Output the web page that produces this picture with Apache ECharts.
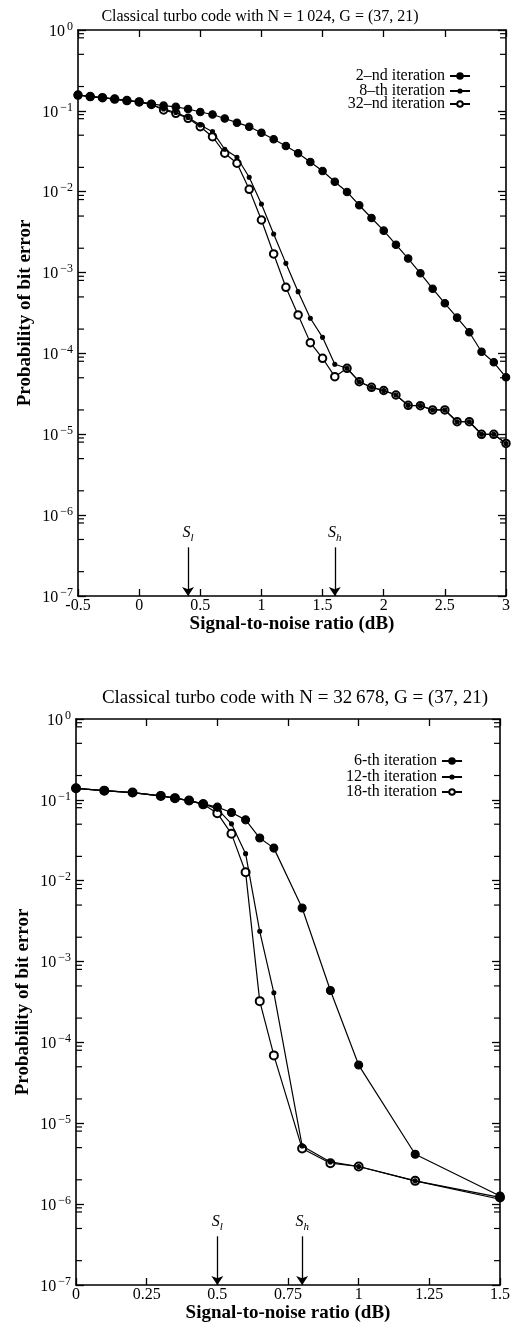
<!DOCTYPE html>
<html>
<head>
<meta charset="utf-8">
<script src="https://cdn.jsdelivr.net/npm/echarts@6/dist/echarts.min.js"></script>
<style>
  html, body { margin: 0; padding: 0; background: #fff; }
  #chart { width: 513px; height: 1328px; }
</style>
</head>
<body>
<div id="chart"></div>
<script>
// top chart: N = 1024
const snrTop = [-0.5, -0.4, -0.3, -0.2, -0.1, 0, 0.1, 0.2, 0.3, 0.4, 0.5, 0.6, 0.7, 0.8, 0.9, 1.0, 1.1, 1.2,
  1.3, 1.4, 1.5, 1.6, 1.7, 1.8, 1.9, 2.0, 2.1, 2.2, 2.3, 2.4, 2.5, 2.6, 2.7, 2.8, 2.9, 3.0];
const ber2nd = [0.157, 0.150, 0.1455, 0.140, 0.134, 0.129, 0.122, 0.116, 0.112, 0.1054, 0.0968, 0.0902,
  0.0805, 0.0714, 0.0637, 0.0537, 0.0445, 0.0367, 0.0299, 0.0233, 0.0180, 0.0133, 0.00993, 0.00680,
  0.00473, 0.00330, 0.00221, 0.00149, 0.00098, 0.000632, 0.000417, 0.000277, 0.000183, 0.000105,
  0.0000777, 0.0000507];
const ber8th = [0.157, 0.150, 0.1455, 0.140, 0.134, 0.129, 0.120, 0.1054, 0.0954, 0.0828, 0.0669, 0.0553,
  0.0335, 0.0267, 0.0151, 0.00705, 0.00300, 0.00130, 0.000581, 0.000272, 0.000158, 0.0000735, 0.0000655,
  0.0000447, 0.0000381, 0.0000348, 0.0000306, 0.0000228, 0.0000226, 0.0000200, 0.0000200, 0.0000143,
  0.0000143, 0.0000100, 0.0000100, 0.0000077];
const ber32nd = [0.157, 0.150, 0.1455, 0.140, 0.134, 0.129, 0.120, 0.1025, 0.0932, 0.0809, 0.0637, 0.0479,
  0.0299, 0.0225, 0.0107, 0.00447, 0.00170, 0.000658, 0.000299, 0.000136, 0.0000871, 0.0000516, 0.0000655,
  0.0000447, 0.0000381, 0.0000348, 0.0000306, 0.0000228, 0.0000226, 0.0000200, 0.0000200, 0.0000143,
  0.0000143, 0.0000100, 0.0000100, 0.0000077];

// bottom chart: N = 32678
const snrBottom = [0, 0.1, 0.2, 0.3, 0.35, 0.4, 0.45, 0.5, 0.55, 0.6, 0.65, 0.7, 0.8, 0.9, 1.0, 1.2, 1.5];
const ber6th = [0.139, 0.130, 0.123, 0.112, 0.105, 0.098, 0.0893, 0.0813, 0.0697, 0.0566, 0.0337, 0.0253,
  0.00460, 0.000438, 0.0000525, 0.00000414, 0.00000126];
const ber12th = [0.139, 0.130, 0.123, 0.112, 0.105, 0.098, 0.0893, 0.0774, 0.0505, 0.0216, 0.00237, 0.000411,
  0.00000525, 0.00000333, 0.00000292, 0.00000194, 0.00000115];
const ber18th = [0.139, 0.130, 0.123, 0.112, 0.105, 0.098, 0.0880, 0.0685, 0.0380, 0.0127, 0.000324, 0.0000691,
  0.00000487, 0.00000321, 0.00000292, 0.00000194, 0.00000121];

const xTicksTop = [-0.5, 0, 0.5, 1, 1.5, 2, 2.5, 3];
const xTicksBottom = [0, 0.25, 0.5, 0.75, 1, 1.25, 1.5];
const yExponents = [-7, -6, -5, -4, -3, -2, -1, 0];
const minorMultipliers = [2, 5, 8, 9];
const thresholdsTop = [0.4, 1.6];
const thresholdsBottom = [0.5, 0.8];
const thresholdNames = ['l', 'h'];

const serif = 'Liberation Serif';
const black = '#000';

const zip = (xs, ys) => xs.map((x, i) => [x, ys[i]]);

const minorVals = [];
yExponents.slice(0, -1).forEach(e => {
  minorMultipliers.forEach(m => minorVals.push(m * Math.pow(10, e)));
});

function xAxisPair(gi, ticks, name) {
  const common = {
    gridIndex: gi, type: 'value',
    min: ticks[0], max: ticks[ticks.length - 1], interval: ticks[1] - ticks[0],
    splitLine: {show: false},
    axisLine: {show: true, onZero: false, lineStyle: {color: black, width: 1.6}},
    axisTick: {show: true, inside: true, length: 7, lineStyle: {color: black, width: 1.3}}
  };
  return [
    Object.assign({}, common, {
      position: 'bottom',
      axisLabel: {color: black, fontFamily: serif, fontSize: 16, margin: 2, formatter: v => String(v)},
      name: name, nameLocation: 'middle', nameGap: 14,
      nameTextStyle: {color: black, fontFamily: serif, fontSize: 19, fontWeight: 'bold'}
    }),
    Object.assign({}, common, {position: 'top', axisLabel: {show: false}})
  ];
}

const supRich = {
  b: {fontFamily: serif, fontSize: 16, color: black, verticalAlign: 'bottom'},
  s: {fontFamily: serif, fontSize: 12, color: black, verticalAlign: 'bottom', padding: [0, 0, 7, 2]}
};

function yAxisPair(gi) {
  const common = {
    gridIndex: gi, type: 'log', logBase: 10,
    min: Math.pow(10, yExponents[0]), max: Math.pow(10, yExponents[yExponents.length - 1]),
    interval: 1, splitNumber: 7,
    splitLine: {show: false},
    minorTick: {show: false},
    axisLine: {show: true, onZero: false, lineStyle: {color: black, width: 1.6}},
    axisTick: {show: true, inside: true, length: 8, lineStyle: {color: black, width: 1.3}}
  };
  return [
    Object.assign({}, common, {
      position: 'left',
      axisLabel: {
        margin: 5, showMinLabel: true, showMaxLabel: true,
        formatter: v => {
          const e = Math.round(Math.log10(v));
          return '{b|10}{s|' + (e === 0 ? '0' : '\u2212' + (-e)) + '}';
        },
        rich: supRich
      },
      name: 'Probability of bit error', nameLocation: 'middle', nameRotate: 90, nameGap: 43,
      nameMoveOverlap: false,
      nameTextStyle: {color: black, fontFamily: serif, fontSize: 19, fontWeight: 'bold'}
    }),
    Object.assign({}, common, {position: 'right', axisLabel: {show: false}})
  ];
}

function lineSeries(name, xi, data, symbol, size, z) {
  return {
    name: name, type: 'line', xAxisIndex: xi, yAxisIndex: xi,
    data: data, symbol: symbol, symbolSize: size, showSymbol: true, z: z,
    lineStyle: {color: black, width: 1.2},
    itemStyle: {color: black, borderColor: black, borderWidth: 1.1},
    emphasis: {disabled: true}
  };
}

function arrows(xs) {
  return {
    silent: true, animation: false,
    symbol: ['none', 'arrow'], symbolSize: 9,
    lineStyle: {color: black, width: 1.3, type: 'solid'},
    label: {
      show: true, position: 'start', distance: 4,
      formatter: p => '{S|S}{sub|' + p.name + '}',
      rich: {
        S: {fontFamily: serif, fontStyle: 'italic', fontSize: 16, color: black, verticalAlign: 'bottom', padding: [0, 0, 3, 0]},
        sub: {fontFamily: serif, fontStyle: 'italic', fontSize: 11, color: black, verticalAlign: 'bottom'}
      }
    },
    data: xs.map((x, i) => [{name: thresholdNames[i], coord: [x, 4e-7]}, {coord: [x, 1e-7]}])
  };
}

function minorTicks(gi) {
  return {
    type: 'custom', xAxisIndex: gi * 2, yAxisIndex: gi * 2, silent: true, clip: false, z: 1,
    data: minorVals.map(v => [0, v]),
    encode: {x: 0, y: 1},
    renderItem: (params, api) => {
      const cs = params.coordSys;
      const y = api.coord([api.value(0), api.value(1)])[1];
      const st = {stroke: black, lineWidth: 1.2};
      return {
        type: 'group', children: [
          {type: 'line', shape: {x1: cs.x, y1: y, x2: cs.x + 6, y2: y}, style: st},
          {type: 'line', shape: {x1: cs.x + cs.width - 6, y1: y, x2: cs.x + cs.width, y2: y}, style: st}
        ]
      };
    }
  };
}

// one legend component per entry so each icon can get its own marker size
function legendItem(name, right, top, iconH) {
  return {
    data: [name], orient: 'vertical', align: 'right', selectedMode: false,
    right: right, top: top, padding: 0,
    itemWidth: 20, itemHeight: iconH,
    textStyle: {color: black, fontFamily: serif, fontSize: 16, lineHeight: 15}
  };
}

const xTop = xAxisPair(0, xTicksTop, 'Signal-to-noise ratio (dB)');
const xBot = xAxisPair(1, xTicksBottom, 'Signal-to-noise ratio (dB)');
const yTop = yAxisPair(0);
const yBot = yAxisPair(1);

const names = {
  i2: '2\u2013nd iteration', i8: '8\u2013th iteration', i32: '32\u2013nd iteration',
  i6: '6-th iteration', i12: '12-th iteration', i18: '18-th iteration'
};

const s2 = lineSeries(names.i2, 0, zip(snrTop, ber2nd), 'circle', 7.5, 5);
s2.markLine = arrows(thresholdsTop);
const s6 = lineSeries(names.i6, 2, zip(snrBottom, ber6th), 'circle', 8, 5);
s6.markLine = arrows(thresholdsBottom);

const chart = echarts.init(document.getElementById('chart'));
chart.setOption({
  animation: false,
  backgroundColor: '#fff',
  title: [
    {text: 'Classical turbo code with N = 1\u2009024, G = (37, 21)', left: 255, top: 4, textAlign: 'center',
      textStyle: {fontFamily: serif, fontWeight: 'normal', fontSize: 16, color: black}},
    {text: 'Classical turbo code with N = 32\u2009678, G = (37, 21)', left: 290, top: 684, textAlign: 'center',
      textStyle: {fontFamily: serif, fontWeight: 'normal', fontSize: 19, color: black}}
  ],
  legend: [
    legendItem(names.i2, 42, 68, 7),
    legendItem(names.i8, 42, 83, 4),
    legendItem(names.i32, 42, 96, 7),
    legendItem(names.i6, 50, 753, 7),
    legendItem(names.i12, 50, 769, 4),
    legendItem(names.i18, 50, 784, 7)
  ],
  grid: [
    {left: 78, top: 30, width: 430, height: 566},
    {left: 76, top: 719, width: 427, height: 566}
  ],
  xAxis: [xTop[0], xTop[1], xBot[0], xBot[1]],
  yAxis: [yTop[0], yTop[1], yBot[0], yBot[1]],
  series: [
    lineSeries(names.i32, 0, zip(snrTop, ber32nd), 'emptyCircle', 7.5, 3),
    lineSeries(names.i8, 0, zip(snrTop, ber8th), 'circle', 4, 4),
    s2,
    lineSeries(names.i18, 2, zip(snrBottom, ber18th), 'emptyCircle', 8, 3),
    lineSeries(names.i12, 2, zip(snrBottom, ber12th), 'circle', 4, 4),
    s6,
    minorTicks(0),
    minorTicks(1)
  ]
});
</script>
</body>
</html>
